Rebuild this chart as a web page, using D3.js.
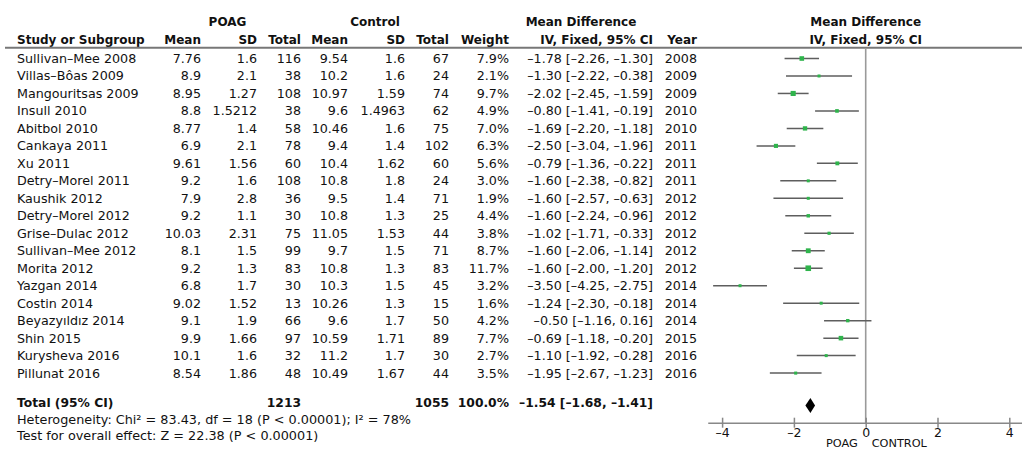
<!DOCTYPE html>
<html><head><meta charset="utf-8">
<script src="https://cdn.jsdelivr.net/npm/d3@7"></script>
<style>
html,body{margin:0;padding:0;background:#fff;}
svg{display:block;}
text{font-family:"DejaVu Sans",sans-serif;fill:#111;}
</style></head>
<body>
<svg id="c" width="1022" height="451"></svg>
<script>
const studies = ["Sullivan–Mee 2008","Villas–Bôas 2009","Mangouritsas 2009","Insull 2010","Abitbol 2010","Cankaya 2011","Xu 2011","Detry–Morel 2011","Kaushik 2012","Detry–Morel 2012","Grise–Dulac 2012","Sullivan–Mee 2012","Morita 2012","Yazgan 2014","Costin 2014","Beyazyıldız 2014","Shin 2015","Kurysheva 2016","Pillunat 2016"];
const poagMean = [7.76,8.9,8.95,8.8,8.77,6.9,9.61,9.2,7.9,9.2,10.03,8.1,9.2,6.8,9.02,9.1,9.9,10.1,8.54];
const poagSD = [1.6,2.1,1.27,1.5212,1.4,2.1,1.56,1.6,2.8,1.1,2.31,1.5,1.3,1.7,1.52,1.9,1.66,1.6,1.86];
const poagTotal = [116,38,108,38,58,78,60,108,36,30,75,99,83,30,13,66,97,32,48];
const ctrlMean = [9.54,10.2,10.97,9.6,10.46,9.4,10.4,10.8,9.5,10.8,11.05,9.7,10.8,10.3,10.26,9.6,10.59,11.2,10.49];
const ctrlSD = [1.6,1.6,1.59,1.4963,1.6,1.4,1.62,1.8,1.4,1.3,1.53,1.5,1.3,1.5,1.3,1.7,1.71,1.7,1.67];
const ctrlTotal = [67,24,74,62,75,102,60,24,71,25,44,71,83,45,15,50,89,30,44];
const weight = [7.9,2.1,9.7,4.9,7.0,6.3,5.6,3.0,1.9,4.4,3.8,8.7,11.7,3.2,1.6,4.2,7.7,2.7,3.5];
const md = [-1.78,-1.30,-2.02,-0.80,-1.69,-2.50,-0.79,-1.60,-1.60,-1.60,-1.02,-1.60,-1.60,-3.50,-1.24,-0.50,-0.69,-1.10,-1.95];
const ciLow = [-2.26,-2.22,-2.45,-1.41,-2.20,-3.04,-1.36,-2.38,-2.57,-2.24,-1.71,-2.06,-2.00,-4.25,-2.30,-1.16,-1.18,-1.92,-2.67];
const ciHigh = [-1.30,-0.38,-1.59,-0.19,-1.18,-1.96,-0.22,-0.82,-0.63,-0.96,-0.33,-1.14,-1.20,-2.75,-0.18,0.16,-0.20,-0.28,-1.23];
const years = [2008,2009,2009,2010,2010,2011,2011,2011,2012,2012,2012,2012,2012,2014,2014,2014,2015,2016,2016];
const total = {poagN:1213, ctrlN:1055, weight:100.0, md:-1.54, lo:-1.68, hi:-1.41};
const heterogeneity = "Heterogeneity: Chi² = 83.43, df = 18 (P < 0.00001); I² = 78%";
const overallTest = "Test for overall effect: Z = 22.38 (P < 0.00001)";
const axisTicks = [-4,-2,0,2,4];
const favourLeft = "POAG", favourRight = "CONTROL";

const svg = d3.select("#c");
const FS = 12.7, FB = 12;
const fmt = v => (v < 0 ? "–" : "") + Math.abs(v).toFixed(2);
const ciText = (m,l,h) => `${fmt(m)} [${fmt(l)}, ${fmt(h)}]`;

const col = {name:17, pm:201, psd:257, pt:301, cm:348, csd:405, ct:449, w:509, ci:653, yr:697};

const rowY = d3.scaleLinear().domain([0, 18]).range([63, 377.6]);
const x = d3.scaleLinear().domain([-4, 4]).range([722.1, 1009.3]);

// headers
const hdr = svg.append("g").attr("font-weight","bold").attr("font-size",FB);
hdr.append("text").attr("x",227.5).attr("y",26).attr("text-anchor","middle").text("POAG");
hdr.append("text").attr("x",375).attr("y",26).attr("text-anchor","middle").text("Control");
hdr.append("text").attr("x",581).attr("y",26).attr("text-anchor","middle").text("Mean Difference");
hdr.append("text").attr("x",x(0)).attr("y",26).attr("text-anchor","middle").text("Mean Difference");
hdr.append("text").attr("x",col.name).attr("y",44).text("Study or Subgroup");
[["Mean",col.pm],["SD",col.psd],["Total",col.pt],["Mean",col.cm],["SD",col.csd],["Total",col.ct],["Weight",col.w],["IV, Fixed, 95% CI",col.ci],["Year",col.yr]].forEach(([t,cx])=>{
  hdr.append("text").attr("x",cx).attr("y",44).attr("text-anchor","end").text(t);
});
hdr.append("text").attr("x",x(0)).attr("y",44).attr("text-anchor","middle").text("IV, Fixed, 95% CI");

svg.append("line").attr("x1",5).attr("x2",1022).attr("y1",47.8).attr("y2",47.8).attr("stroke","#777").attr("stroke-width",2);

// zero line
svg.append("line").attr("x1",x(0)).attr("x2",x(0)).attr("y1",48).attr("y2",423).attr("stroke","#9a9a9a").attr("stroke-width",1.6);

// rows
const body = svg.append("g").attr("font-size",FS);
studies.forEach((s,i)=>{
  const y = rowY(i);
  body.append("text").attr("x",col.name).attr("y",y).text(s);
  const cells = [[poagMean[i],col.pm],[poagSD[i],col.psd],[poagTotal[i],col.pt],[ctrlMean[i],col.cm],[ctrlSD[i],col.csd],[ctrlTotal[i],col.ct],[weight[i].toFixed(1)+"%",col.w],[ciText(md[i],ciLow[i],ciHigh[i]),col.ci],[years[i],col.yr]];
  cells.forEach(([t,cx])=>body.append("text").attr("x",cx).attr("y",y).attr("text-anchor","end").text(String(t)));
});

// forest marks
const sq = d3.scaleSqrt().domain([0, 11.7]).range([0, 5.6]);
const marks = svg.append("g");
studies.forEach((s,i)=>{
  const cy = rowY(i) - 4.5;
  marks.append("line").attr("x1",x(ciLow[i])).attr("x2",x(ciHigh[i])).attr("y1",cy).attr("y2",cy).attr("stroke","#5e5e5e").attr("stroke-width",1.5);
  const side = Math.max(3, sq(weight[i]));
  marks.append("rect").attr("x",x(md[i])-side/2).attr("y",cy-side/2).attr("width",side).attr("height",side).attr("fill","#2fb44c");
});

// total row
const ty = 407;
const tot = svg.append("g").attr("font-weight","bold").attr("font-size",FB+0.3);
tot.append("text").attr("x",col.name).attr("y",ty).text("Total (95% CI)");
tot.append("text").attr("x",col.pt).attr("y",ty).attr("text-anchor","end").text(total.poagN);
tot.append("text").attr("x",col.ct).attr("y",ty).attr("text-anchor","end").text(total.ctrlN);
tot.append("text").attr("x",col.w).attr("y",ty).attr("text-anchor","end").text(total.weight.toFixed(1)+"%");
tot.append("text").attr("x",col.ci).attr("y",ty).attr("text-anchor","end").text(ciText(total.md,total.lo,total.hi));

const dy = 405.5, dh = 7.5;
svg.append("path").attr("d",`M${x(total.lo)},${dy} L${x(total.md)},${dy-dh} L${x(total.hi)},${dy} L${x(total.md)},${dy+dh} Z`).attr("fill","#000");

svg.append("text").attr("x",col.name).attr("y",424).attr("font-size",12.8).text(heterogeneity);
svg.append("text").attr("x",col.name).attr("y",440).attr("font-size",12.8).text(overallTest);

// axis
const xa = d3.scaleLinear().domain([-4.4, 4.4]).range([x(-4.4), x(4.4)]);
const ax = svg.append("g").attr("transform","translate(0,422.7)")
  .call(d3.axisBottom(xa).tickValues(axisTicks).tickSizeOuter(0).tickSizeInner(5).tickFormat(d => (d<0?"–":"")+Math.abs(d)));
ax.select(".domain").attr("stroke","#888").attr("stroke-width",1.5);
ax.selectAll(".tick line").attr("y1",-5).attr("y2",5).attr("stroke","#888").attr("stroke-width",1.5);
ax.selectAll(".tick text").attr("font-family","DejaVu Sans").attr("font-size",12.5).attr("fill","#111").attr("y",5);

svg.append("text").attr("x",x(0)-8).attr("y",447).attr("font-size",11.3).attr("text-anchor","end").text(favourLeft);
svg.append("text").attr("x",x(0)+6).attr("y",447).attr("font-size",11.3).text(favourRight);
</script>
</body></html>
